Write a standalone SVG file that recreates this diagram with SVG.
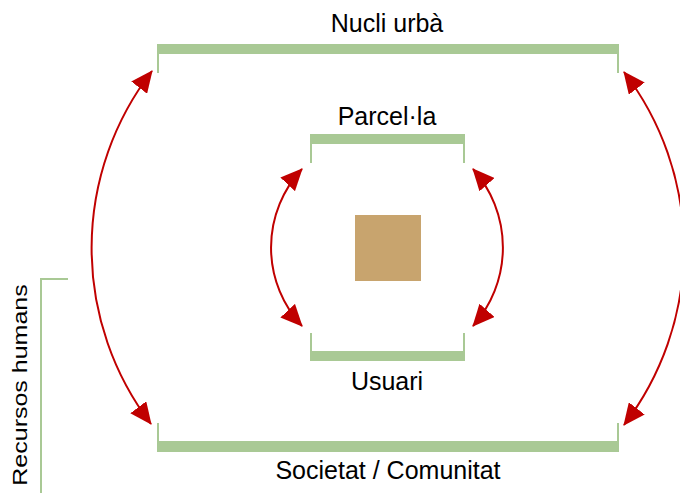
<svg xmlns="http://www.w3.org/2000/svg" width="680" height="493" viewBox="0 0 680 493">
<style>
.bar{fill:#A9C995}
.tick{stroke:#A9C995;stroke-width:2;fill:none}
.arc{stroke:#C00000;stroke-width:2;fill:none;marker-start:url(#ah);marker-end:url(#ah)}
text{font-family:"Liberation Sans",Arial,sans-serif;font-size:25px;fill:#000;text-anchor:middle}
</style>
<defs>
<marker id="ah" markerUnits="userSpaceOnUse" markerWidth="22" markerHeight="20" refX="21" refY="10" orient="auto-start-reverse" viewBox="0 0 22 20">
<path d="M0,0 L22,10 L0,20 z" fill="#C00000"/>
</marker>
</defs>
<rect width="680" height="493" fill="#fff"/>
<g id="nucli">
<rect class="bar" x="157" y="44" width="462" height="10"/>
<path class="tick" d="M158,44 V73 M618,44 V73"/>
<text x="387" y="32">Nucli urbà</text>
</g>
<g id="parcella">
<rect class="bar" x="310" y="134" width="155" height="10"/>
<path class="tick" d="M311,134 V163 M464,134 V163"/>
<text x="387" y="125">Parcel·la</text>
</g>
<g id="usuari">
<rect class="bar" x="310" y="351" width="155" height="10"/>
<path class="tick" d="M311,333 V361 M464,333 V361"/>
<text x="387" y="390">Usuari</text>
</g>
<g id="societat">
<rect class="bar" x="157" y="441" width="462" height="11"/>
<path class="tick" d="M158,423 V452 M618,423 V452"/>
<text x="388" y="479">Societat / Comunitat</text>
</g>
<g id="centre">
<rect x="355" y="215" width="66" height="66" fill="#C8A46E"/>
</g>
<g id="recursos">
<path class="tick" d="M68,279 H41 V493"/>
<text transform="translate(27,385) rotate(-90) scale(1,0.8)">Recursos humans</text>
</g>
<g id="connectors">
<path class="arc" d="M152,71 A290,290 0 0 0 151,424"/>
<path class="arc" d="M624,72 A290,290 0 0 1 624,425"/>
<path class="arc" d="M302,169 A115,115 0 0 0 302,326"/>
<path class="arc" d="M473,169 A118,118 0 0 1 473,326"/>
</g>
</svg>
